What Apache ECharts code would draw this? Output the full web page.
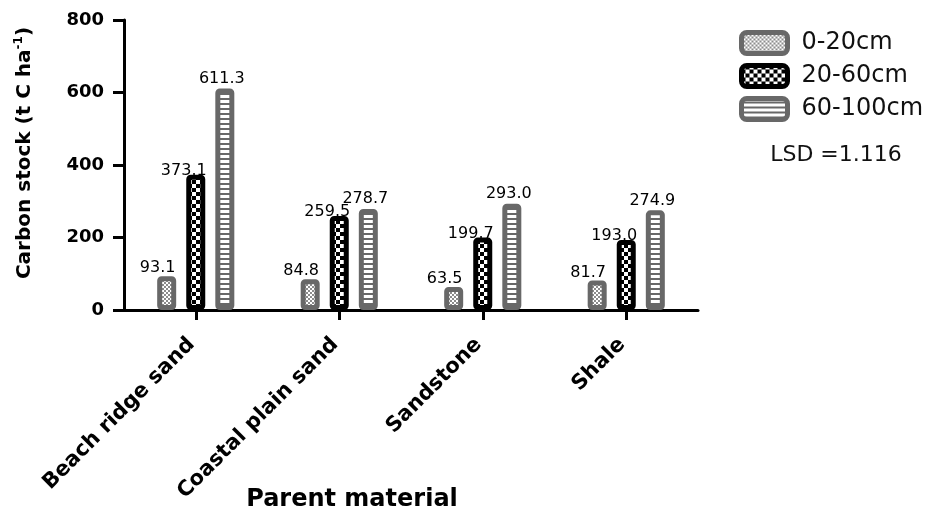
<!DOCTYPE html>
<html>
<head>
<meta charset="utf-8">
<script src="https://cdn.jsdelivr.net/npm/echarts@6/dist/echarts.min.js"></script>
<style>
  html, body { margin: 0; padding: 0; background: #fff; }
  #chart { width: 942px; height: 512px; }
</style>
</head>
<body>
<div id="chart"></div>
<script>
// Parent materials on the category axis
const categories = ['Beach ridge sand', 'Coastal plain sand', 'Sandstone', 'Shale'];
// Carbon stock (t C ha-1) per soil depth
const depth0to20 = [93.1, 84.8, 63.5, 81.7];
const depth20to60 = [373.1, 259.5, 199.7, 193.0];
const depth60to100 = [611.3, 278.7, 293.0, 274.9];
const seriesNames = ['0-20cm', '20-60cm', '60-100cm'];
const yTicks = { min: 0, max: 800, step: 200 };
const lsdText = 'LSD =1.116';

const GREY = '#686868';

// Small repeating fills for the bar interiors
function makePattern(w, h, draw) {
  const c = document.createElement('canvas');
  c.width = w; c.height = h;
  draw(c.getContext('2d'));
  return { image: c, repeat: 'repeat' };
}
const fineChecker = makePattern(4, 4, ctx => {
  ctx.fillStyle = '#8c8c8c'; ctx.fillRect(0, 0, 4, 4);
  ctx.fillStyle = '#ffffff'; ctx.fillRect(0, 0, 2, 2); ctx.fillRect(2, 2, 2, 2);
});
const boldChecker = makePattern(8, 8, ctx => {
  ctx.fillStyle = '#000000'; ctx.fillRect(0, 0, 8, 8);
  ctx.fillStyle = '#ffffff'; ctx.fillRect(0, 0, 4, 4); ctx.fillRect(4, 4, 4, 4);
});
const hStripes = makePattern(5, 5, ctx => {
  ctx.fillStyle = GREY; ctx.fillRect(0, 0, 5, 5);
  ctx.fillStyle = '#ffffff'; ctx.fillRect(0, 0, 5, 3);
});

const styles = [
  { fill: fineChecker, border: GREY, labelOffset: [-9, 2] },
  { fill: boldChecker, border: '#000000', labelOffset: [-12, 6] },
  { fill: hStripes, border: GREY, labelOffset: [-3, 0] }
];
const values = [depth0to20, depth20to60, depth60to100];

const chart = echarts.init(document.getElementById('chart'), null, { renderer: 'canvas' });

const series = values.map((vals, i) => ({
  name: seriesNames[i],
  type: 'bar',
  data: vals,
  barWidth: 19,
  barGap: '53%',
  itemStyle: {
    color: styles[i].fill,
    borderColor: styles[i].border,
    borderWidth: 5,
    borderRadius: 2
  },
  label: {
    show: true,
    position: 'top',
    distance: 2,
    offset: styles[i].labelOffset,
    formatter: p => p.value.toFixed(1),
    fontFamily: 'DejaVu Sans',
    fontSize: 16,
    color: '#000'
  },
  emphasis: { disabled: true }
}));

chart.setOption({
  animation: false,
  backgroundColor: '#ffffff',
  grid: { left: 124, right: 244, top: 20, bottom: 202, containLabel: false },
  legend: {
    left: 734,
    top: 25,
    orient: 'vertical',
    icon: 'roundRect',
    itemWidth: 46,
    itemHeight: 21,
    itemGap: 7,
    selectedMode: false,
    textStyle: {
      fontFamily: 'DejaVu Sans',
      fontSize: 24,
      color: '#111',
      padding: [0, 0, 0, 9]
    },
    data: seriesNames.map((n, i) => ({
      name: n,
      itemStyle: { color: styles[i].fill, borderColor: styles[i].border, borderWidth: 5 }
    }))
  },
  xAxis: {
    type: 'category',
    data: categories,
    axisLine: { lineStyle: { color: '#000', width: 3 } },
    axisTick: { show: true, alignWithLabel: true, length: 10, lineStyle: { color: '#000', width: 3 } },
    axisLabel: {
      rotate: 45,
      interval: 0,
      margin: 27,
      padding: [0, 6, 0, 0],
      fontFamily: 'DejaVu Sans',
      fontWeight: 'bold',
      fontSize: 21,
      color: '#000'
    }
  },
  yAxis: {
    type: 'value',
    min: yTicks.min,
    max: yTicks.max,
    interval: yTicks.step,
    splitLine: { show: false },
    axisLine: { show: true, lineStyle: { color: '#000', width: 3 } },
    axisTick: { show: true, length: 11, lineStyle: { color: '#000', width: 3 } },
    axisLabel: {
      margin: 20,
      fontFamily: 'DejaVu Sans',
      fontWeight: 'bold',
      fontSize: 18,
      color: '#000'
    }
  },
  graphic: [
    {
      type: 'text',
      x: 25, y: 153,
      rotation: Math.PI / 2,
      style: {
        text: '{a|Carbon stock (t C ha}{s|-1}{a|)}',
        align: 'center',
        verticalAlign: 'middle',
        rich: {
          a: { fontFamily: 'DejaVu Sans', fontWeight: 'bold', fontSize: 20, fill: '#000', lineHeight: 24 },
          s: { fontFamily: 'DejaVu Sans', fontWeight: 'bold', fontSize: 12, fill: '#000', verticalAlign: 'top', lineHeight: 24 }
        }
      }
    },
    {
      type: 'text',
      x: 352, y: 500,
      style: {
        text: 'Parent material',
        align: 'center',
        verticalAlign: 'middle',
        fontFamily: 'DejaVu Sans',
        fontWeight: 'bold',
        fontSize: 24,
        fill: '#000'
      }
    },
    {
      type: 'text',
      x: 836, y: 155,
      style: {
        text: lsdText,
        align: 'center',
        verticalAlign: 'middle',
        fontFamily: 'DejaVu Sans',
        fontSize: 22,
        fill: '#111'
      }
    }
  ],
  series: series
});
</script>
</body>
</html>
